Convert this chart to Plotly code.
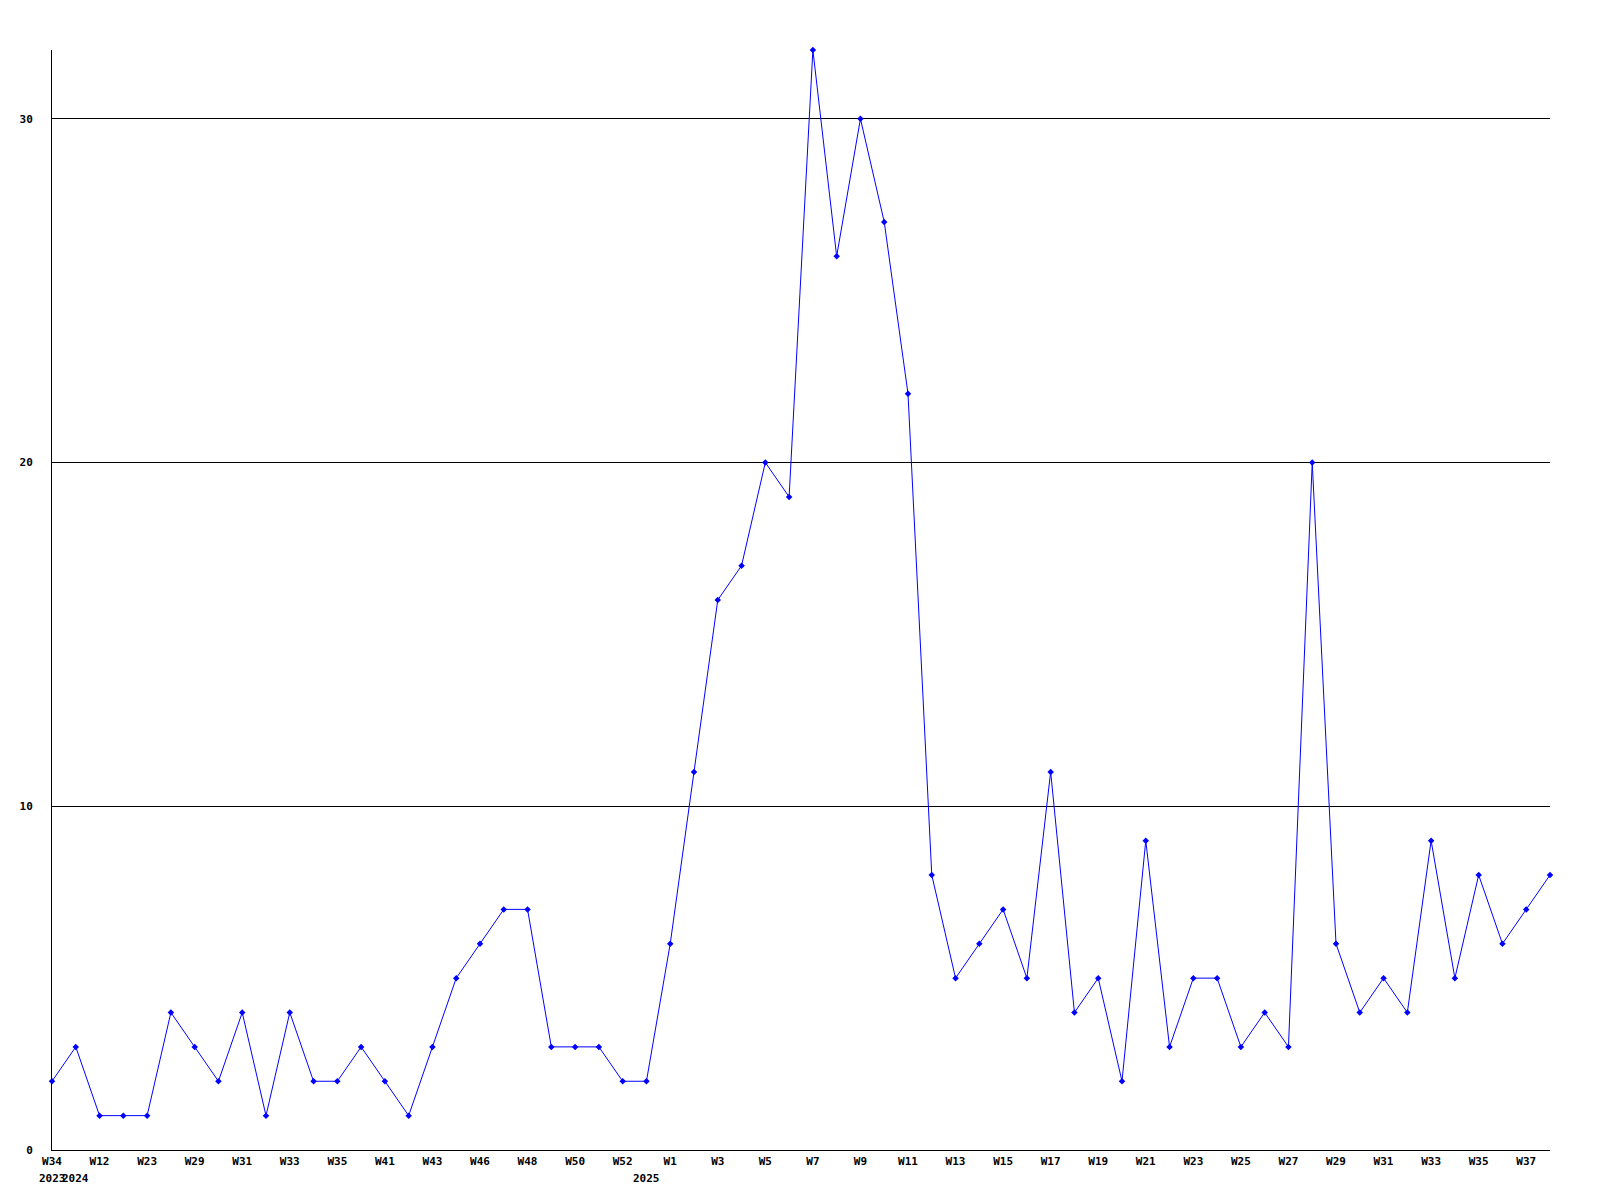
import plotly.graph_objects as go

# Week labels for every data point (only every other one is shown on the axis)
week_labels = [
    "W34", "W10", "W12", "W18", "W23", "W27", "W29", "W30", "W31", "W32",
    "W33", "W34", "W35", "W40", "W41", "W42", "W43", "W45", "W46", "W47",
    "W48", "W49", "W50", "W51", "W52", "W53", "W1", "W2", "W3", "W4",
    "W5", "W6", "W7", "W8", "W9", "W10", "W11", "W12", "W13", "W14",
    "W15", "W16", "W17", "W18", "W19", "W20", "W21", "W22", "W23", "W24",
    "W25", "W26", "W27", "W28", "W29", "W30", "W31", "W32", "W33", "W34",
    "W35", "W36", "W37", "W38",
]
values = [
    2, 3, 1, 1, 1, 4, 3, 2, 4, 1,
    4, 2, 2, 3, 2, 1, 3, 5, 6, 7,
    7, 3, 3, 3, 2, 2, 6, 11, 16, 17,
    20, 19, 32, 26, 30, 27, 22, 8, 5, 6,
    7, 5, 11, 4, 5, 2, 9, 3, 5, 5,
    3, 4, 3, 20, 6, 4, 5, 4, 9, 5,
    8, 6, 7, 8,
]
year_labels = ["2023", "2024", "2025"]
year_start_index = [0, 1, 25]

y_ticks = [0, 10, 20, 30]

x = list(range(len(values)))
FONT = "DejaVu Sans Mono"

fig = go.Figure()
fig.add_trace(go.Scatter(
    x=x, y=values, mode="lines+markers",
    line=dict(color="#0000FF", width=1),
    marker=dict(color="#0000FF", size=5, symbol="diamond"),
    text=week_labels,
    hovertemplate="%{text}: %{y}<extra></extra>",
    cliponaxis=False,
))

for lab, idx in zip(year_labels, year_start_index):
    fig.add_annotation(
        x=idx, y=0, xref="x", yref="paper", yshift=-20,
        text=lab, showarrow=False, xanchor="center", yanchor="top",
        font=dict(family=FONT, size=11, color="black", weight="bold"),
    )

fig.update_layout(
    width=1600, height=1200,
    margin=dict(l=42, r=58, t=42, b=58),
    paper_bgcolor="white", plot_bgcolor="white",
    showlegend=False,
    font=dict(family=FONT, size=11, color="black", weight="bold"),
    xaxis=dict(
        range=[0, len(values) - 1],
        tickmode="array",
        tickvals=x[::2],
        ticktext=week_labels[::2],
        showgrid=False, zeroline=False,
        showline=True, linecolor="black", linewidth=1,
        ticks="", ticklabelstandoff=1,
        tickfont=dict(family=FONT, size=11, color="black", weight="bold"),
        tickangle=0,
    ),
    yaxis=dict(
        range=[0, 32],
        tickmode="array", tickvals=y_ticks,
        ticktext=[str(v) for v in y_ticks],
        showgrid=True, gridcolor="black", gridwidth=1,
        zeroline=False,
        showline=True, linecolor="black", linewidth=1,
        ticks="", ticklabelstandoff=16,
        tickfont=dict(family=FONT, size=11, color="black", weight="bold"),
    ),
)

fig.write_html("out.html")
